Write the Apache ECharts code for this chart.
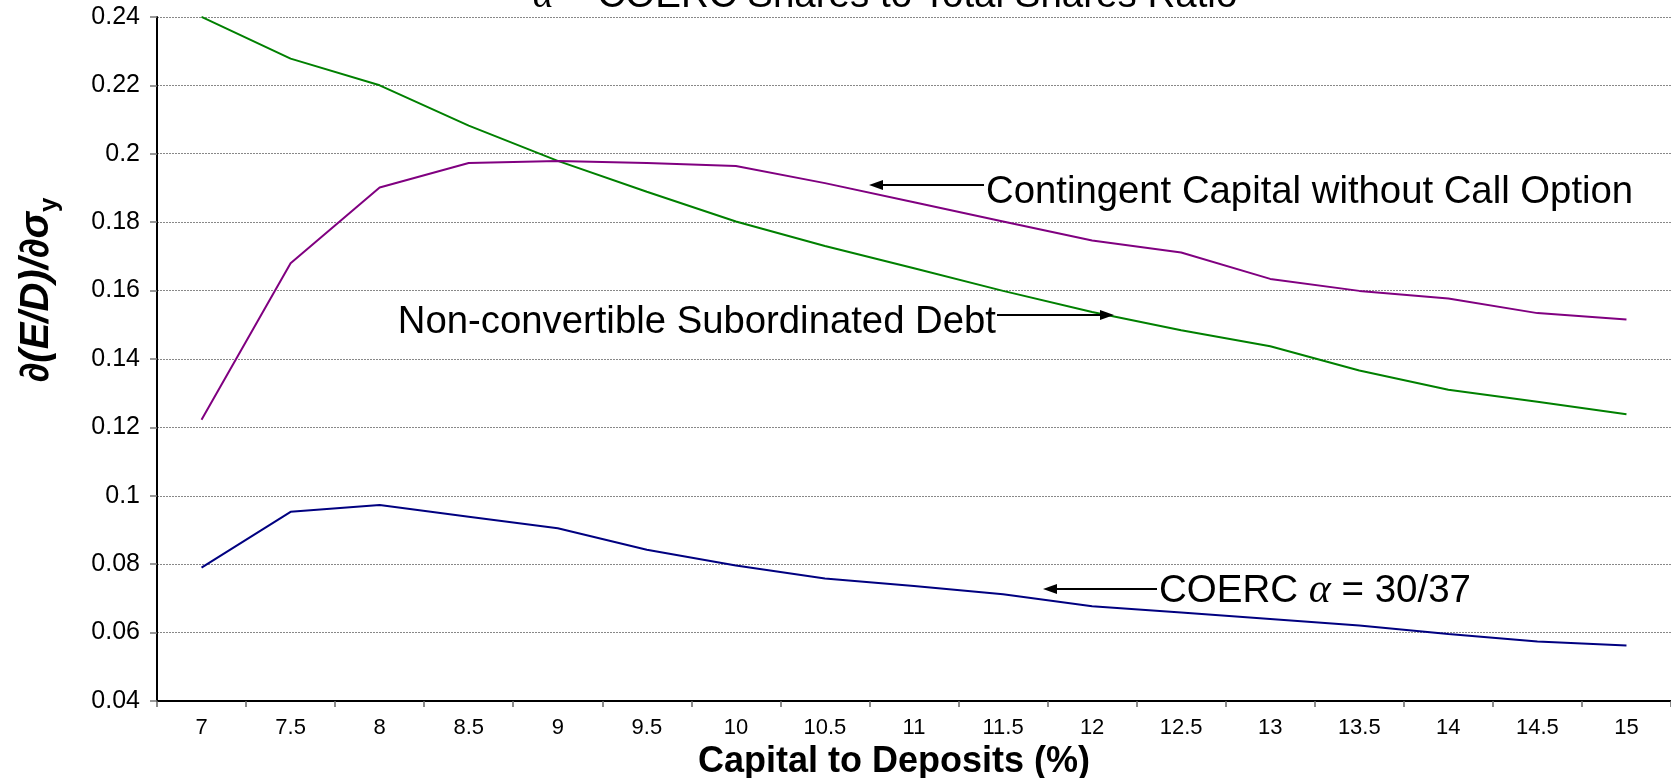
<!DOCTYPE html>
<html>
<head>
<meta charset="utf-8">
<script src="https://cdn.jsdelivr.net/npm/echarts@6/dist/echarts.min.js"></script>
<style>
html,body{margin:0;padding:0;background:#fff;}
#chart{width:1671px;height:778px;}
</style>
</head>
<body>
<div id="chart"></div>
<script>
const categories = ['7','7.5','8','8.5','9','9.5','10','10.5','11','11.5','12','12.5','13','13.5','14','14.5','15'];
const subordinatedDebt = [0.2400,0.2278,0.2200,0.2082,0.1979,0.1889,0.1802,0.1730,0.1665,0.1599,0.1537,0.1484,0.1437,0.1366,0.1310,0.1275,0.1238];
const contingentNoCall = [0.1222,0.1680,0.1901,0.1973,0.1979,0.1973,0.1964,0.1914,0.1858,0.1802,0.1746,0.1711,0.1634,0.1599,0.1577,0.1534,0.1515];
const coerc = [0.0790,0.0953,0.0973,0.0939,0.0905,0.0842,0.0796,0.0758,0.0736,0.0712,0.0677,0.0659,0.0640,0.0621,0.0596,0.0574,0.0562];
const yTicks = {min:0.04, max:0.24, interval:0.02};

const chart = echarts.init(document.getElementById('chart'));
const FONT = 'Liberation Sans, Arial, sans-serif';

function arrow(x1, x2, y, headAtLeft) {
  const hx = headAtLeft ? x1 : x2;
  const dir = headAtLeft ? 1 : -1;
  return [
    {type:'line', shape:{x1:x1 + (headAtLeft?10:0), y1:y, x2:x2 - (headAtLeft?0:10), y2:y}, style:{stroke:'#000', lineWidth:2}, z:10},
    {type:'polygon', shape:{points:[[hx,y],[hx+dir*14,y-5],[hx+dir*14,y+5]]}, style:{fill:'#000'}, z:10}
  ];
}

const option = {
  animation:false,
  backgroundColor:'#fff',
  grid:{left:157, right:0, top:16.9, bottom:77, containLabel:false, outerBoundsMode:'none'},
  xAxis:{
    type:'category',
    data:categories,
    boundaryGap:true,
    name:'Capital to Deposits (%)',
    nameLocation:'middle',
    nameGap:43,
    nameTextStyle:{fontFamily:FONT, fontSize:36, fontWeight:'bold', color:'#000', padding:[0,40,0,0]},
    axisLine:{lineStyle:{color:'#000', width:2}},
    axisTick:{show:true, length:6, lineStyle:{color:'#666', width:1.5}},
    axisLabel:{fontFamily:FONT, fontSize:22, color:'#000', margin:16},
    splitLine:{show:false}
  },
  yAxis:{
    type:'value',
    min:yTicks.min, max:yTicks.max, interval:yTicks.interval,
    name:'{m|∂(E/D)/∂σ}{s|y}',
    nameLocation:'middle',
    nameRotate:90,
    nameGap:94,
    nameTextStyle:{
      padding:[0,0,0,138],
      rich:{
        m:{fontFamily:FONT, fontSize:40, fontWeight:'bold', fontStyle:'italic', color:'#000', lineHeight:52, verticalAlign:'middle'},
        s:{fontFamily:FONT, fontSize:26, fontWeight:'bold', color:'#000', lineHeight:25, verticalAlign:'bottom'}
      }
    },
    axisLine:{show:true, lineStyle:{color:'#000', width:2}},
    axisTick:{show:true, length:7, lineStyle:{color:'#777', width:1.5}},
    axisLabel:{fontFamily:FONT, fontSize:25, color:'#000', margin:17},
    splitLine:{show:true, lineStyle:{color:'#888', type:[2,1], width:1}}
  },
  series:[
    {name:'Non-convertible Subordinated Debt', type:'line', data:subordinatedDebt, symbol:'none', lineStyle:{color:'#008000', width:2}, itemStyle:{color:'#008000'}},
    {name:'Contingent Capital without Call Option', type:'line', data:contingentNoCall, symbol:'none', lineStyle:{color:'#800080', width:2}, itemStyle:{color:'#800080'}},
    {name:'COERC α = 30/37', type:'line', data:coerc, symbol:'none', lineStyle:{color:'#000080', width:2}, itemStyle:{color:'#000080'}}
  ],
  graphic:[
    {type:'text', x:885, y:-4, z:10, style:{text:'{a|α} = COERC Shares to Total Shares Ratio', fontFamily:FONT, fontSize:38.5, fill:'#000', textAlign:'center', textVerticalAlign:'middle',
      rich:{a:{fontFamily:'Liberation Serif, serif', fontStyle:'italic', fontSize:40, fill:'#000'}}}},
    {type:'text', x:986, y:192, z:10, style:{text:'Contingent Capital without Call Option', fontFamily:FONT, fontSize:38.3, fill:'#000', textAlign:'left', textVerticalAlign:'middle'}},
    {type:'text', x:996, y:322, z:10, style:{text:'Non-convertible Subordinated Debt', fontFamily:FONT, fontSize:38.3, fill:'#000', textAlign:'right', textVerticalAlign:'middle'}},
    {type:'text', x:1159, y:591, z:10, style:{text:'COERC {a|α} = 30/37', fontFamily:FONT, fontSize:38.5, fill:'#000', textAlign:'left', textVerticalAlign:'middle',
      rich:{a:{fontFamily:'Liberation Serif, serif', fontStyle:'italic', fontSize:42, fill:'#000'}}}},
    ...arrow(869, 984, 185, true),
    ...arrow(997, 1114, 315, false),
    ...arrow(1043, 1157, 589, true)
  ]
};
chart.setOption(option);
</script>
</body>
</html>
